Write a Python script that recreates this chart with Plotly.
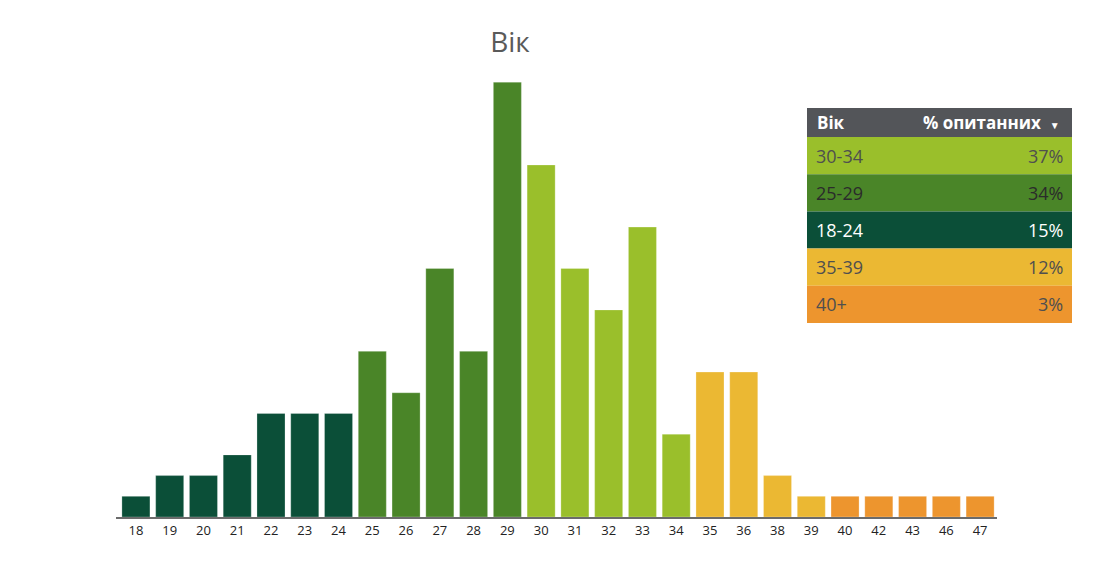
import plotly.graph_objects as go

# дані
ages = ["18", "19", "20", "21", "22", "23", "24", "25", "26", "27", "28", "29", "30",
        "31", "32", "33", "34", "35", "36", "38", "39", "40", "42", "43", "46", "47"]
counts = [1, 2, 2, 3, 5, 5, 5, 8, 6, 12, 8, 21, 17,
          12, 10, 14, 4, 7, 7, 2, 1, 1, 1, 1, 1, 1]
age_groups = ["18-24"] * 7 + ["25-29"] * 5 + ["30-34"] * 5 + ["35-39"] * 4 + ["40+"] * 5

table_groups = ["30-34", "25-29", "18-24", "35-39", "40+"]
table_pcts = ["37%", "34%", "15%", "12%", "3%"]

colors = {
    "18-24": "#0b4f38",
    "25-29": "#4a8528",
    "30-34": "#9abf2b",
    "35-39": "#ebb833",
    "40+": "#ed952e",
}
text_colors = {
    "18-24": "white",
    "25-29": "#2b2b2b",
    "30-34": "#4f4f4f",
    "35-39": "#4f4f4f",
    "40+": "#4f4f4f",
}

FONT = "Open Sans"
OFF = 8  # відступ body сторінки
W, H = 1119 - OFF, 567 - OFF
ML, MR, MT, MB = 116 - OFF, 122, 60 - OFF, 50
PW, PH = W - ML - MR, H - MT - MB


def px_x(x):
    return (x - OFF - ML) / PW


def px_y(y):
    return (H - MB - (y - OFF)) / PH


fig = go.Figure()
fig.add_trace(go.Bar(
    x=ages, y=counts,
    marker=dict(color=[colors[g] for g in age_groups],
                line=dict(color="rgba(255,255,255,0.25)", width=1)),
    hovertext=age_groups,
))

fig.update_layout(
    width=W, height=H,
    margin=dict(l=ML, r=MR, t=MT, b=MB),
    paper_bgcolor="white", plot_bgcolor="white",
    bargap=0.17,
    showlegend=False,
    font=dict(family=FONT, color="#222222"),
    title=dict(text="Вік", x=(510 - OFF) / W, xanchor="center", y=1 - (42 - OFF) / H,
               yanchor="middle", font=dict(size=28, color="#5a5a5a", family=FONT)),
    xaxis=dict(type="category", showgrid=False, showline=True, linecolor="#6b6b6b",
               linewidth=2, ticks="", tickfont=dict(size=13, color="#222222"),
               range=[-0.59, len(ages) - 0.5]),
    yaxis=dict(range=[0, 22.07], visible=False, showgrid=False),
)

# таблиця легенди
x0, x1 = px_x(807), px_x(1072)
header_top, header_bot = 108, 137
row_h = 37.2

fig.add_shape(type="rect", xref="paper", yref="paper",
              x0=x0, x1=x1, y0=px_y(header_bot), y1=px_y(header_top),
              fillcolor="#535559", line=dict(width=0), layer="above")
hy = px_y((header_top + header_bot) / 2)
fig.add_annotation(xref="paper", yref="paper", x=px_x(815), y=hy,
                   xanchor="left", yanchor="middle",
                   text="<b>Вік</b>", showarrow=False,
                   font=dict(size=17, color="white", family=FONT))
fig.add_annotation(xref="paper", yref="paper", x=px_x(1062), y=hy,
                   xanchor="right", yanchor="middle",
                   text="<b>% опитанних</b>  <span style='font-size:10px'>▼</span>",
                   showarrow=False, font=dict(size=17, color="white", family=FONT))

for i, (g, p) in enumerate(zip(table_groups, table_pcts)):
    top = header_bot + i * row_h
    bot = top + row_h
    fig.add_shape(type="rect", xref="paper", yref="paper",
                  x0=x0, x1=x1, y0=px_y(bot), y1=px_y(top),
                  fillcolor=colors[g], line=dict(width=0), layer="above")
    cy = px_y((top + bot) / 2)
    fig.add_annotation(xref="paper", yref="paper", x=px_x(814), y=cy,
                       xanchor="left", yanchor="middle",
                       text=g, showarrow=False,
                       font=dict(size=18, color=text_colors[g], family=FONT))
    fig.add_annotation(xref="paper", yref="paper", x=px_x(1065), y=cy,
                       xanchor="right", yanchor="middle",
                       text=p, showarrow=False,
                       font=dict(size=18, color=text_colors[g], family=FONT))

fig.write_html("out.html")
